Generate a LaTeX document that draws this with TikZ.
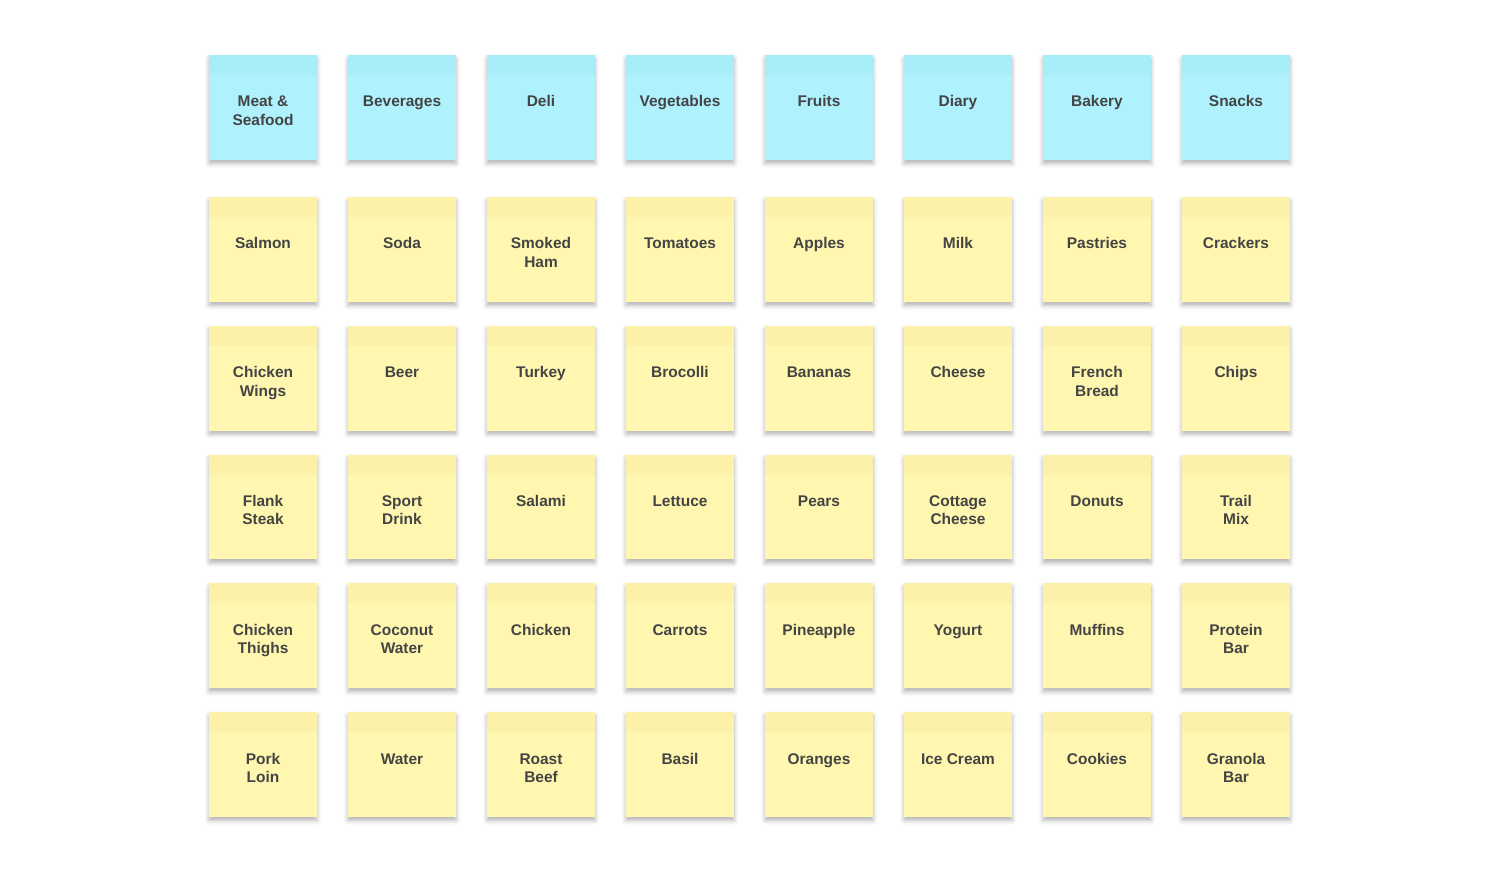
\documentclass[tikz,border=0pt]{standalone}
\usepackage{fontspec}
\setmainfont{Liberation Sans}
\usepackage{tikz}
\usetikzlibrary{shadows.blur}
\definecolor{hdrbody}{HTML}{AFF2FE}
\definecolor{hdrband}{HTML}{A8EDFA}
\definecolor{notebody}{HTML}{FFF7B0}
\definecolor{noteband}{HTML}{FBF1A8}
\definecolor{inkgray}{HTML}{444444}
\newcommand{\topgap}{\rule{0pt}{1.04cm}}
\tikzset{
  sticky/.style ={rectangle, inner sep=0pt, minimum width=2.16cm,
                  minimum height=2.1cm,
                  blur shadow={shadow xshift=0pt, shadow yshift=-0.07cm,
                    shadow blur radius=0.09cm, shadow opacity=30}},
  hdr/.style    ={sticky, fill=hdrbody,
                  path picture={\fill[hdrband]
                    (path picture bounding box.north west) rectangle
                    ([yshift=-0.4cm]path picture bounding box.north east);}},
  note/.style   ={sticky, fill=notebody,
                  path picture={\fill[noteband]
                    (path picture bounding box.north west) rectangle
                    ([yshift=-0.4cm]path picture bounding box.north east);}},
  lbl/.style    ={anchor=north, inner sep=0pt, align=center, text=inkgray,
                  font=\fontsize{8.8pt}{10.5pt}\selectfont\bfseries},
}

\begin{document}
\begin{tikzpicture}[x=0.02cm, y=-0.02cm]
  \useasboundingbox (0,0) rectangle (1500,874);
  % category headers
  \foreach \txt [count=\c] in {{Meat \&\\Seafood},Beverages,Deli,Vegetables,
      Fruits,Diary,Bakery,Snacks}{
    \node[hdr] (h\c) at ({263+139*(\c-1)},107.5) {};
    \node[lbl] (th\c) at (h\c.north) {\topgap\txt};
  }
  % rows of items
  \foreach \txt [count=\c] in {Salmon,Soda,{Smoked\\Ham},Tomatoes,Apples,
      Milk,Pastries,Crackers}{
    \node[note] (a\c) at ({263+139*(\c-1)},249.5) {};
    \node[lbl] (ta\c) at (a\c.north) {\topgap\txt};
  }
  \foreach \txt [count=\c] in {{Chicken\\Wings},Beer,Turkey,Brocolli,Bananas,
      Cheese,{French\\Bread},Chips}{
    \node[note] (b\c) at ({263+139*(\c-1)},378.2) {};
    \node[lbl] (tb\c) at (b\c.north) {\topgap\txt};
  }
  \foreach \txt [count=\c] in {{Flank\\Steak},{Sport\\Drink},Salami,Lettuce,
      Pears,{Cottage\\Cheese},Donuts,{Trail\\Mix}}{
    \node[note] (d\c) at ({263+139*(\c-1)},507) {};
    \node[lbl] (td\c) at (d\c.north) {\topgap\txt};
  }
  \foreach \txt [count=\c] in {{Chicken\\Thighs},{Coconut\\Water},Chicken,
      Carrots,Pineapple,Yogurt,Muffins,{Protein\\Bar}}{
    \node[note] (e\c) at ({263+139*(\c-1)},635.7) {};
    \node[lbl] (te\c) at (e\c.north) {\topgap\txt};
  }
  \foreach \txt [count=\c] in {{Pork\\Loin},Water,{Roast\\Beef},Basil,Oranges,
      {Ice Cream},Cookies,{Granola\\Bar}}{
    \node[note] (f\c) at ({263+139*(\c-1)},764.5) {};
    \node[lbl] (tf\c) at (f\c.north) {\topgap\txt};
  }
\end{tikzpicture}
\end{document}
